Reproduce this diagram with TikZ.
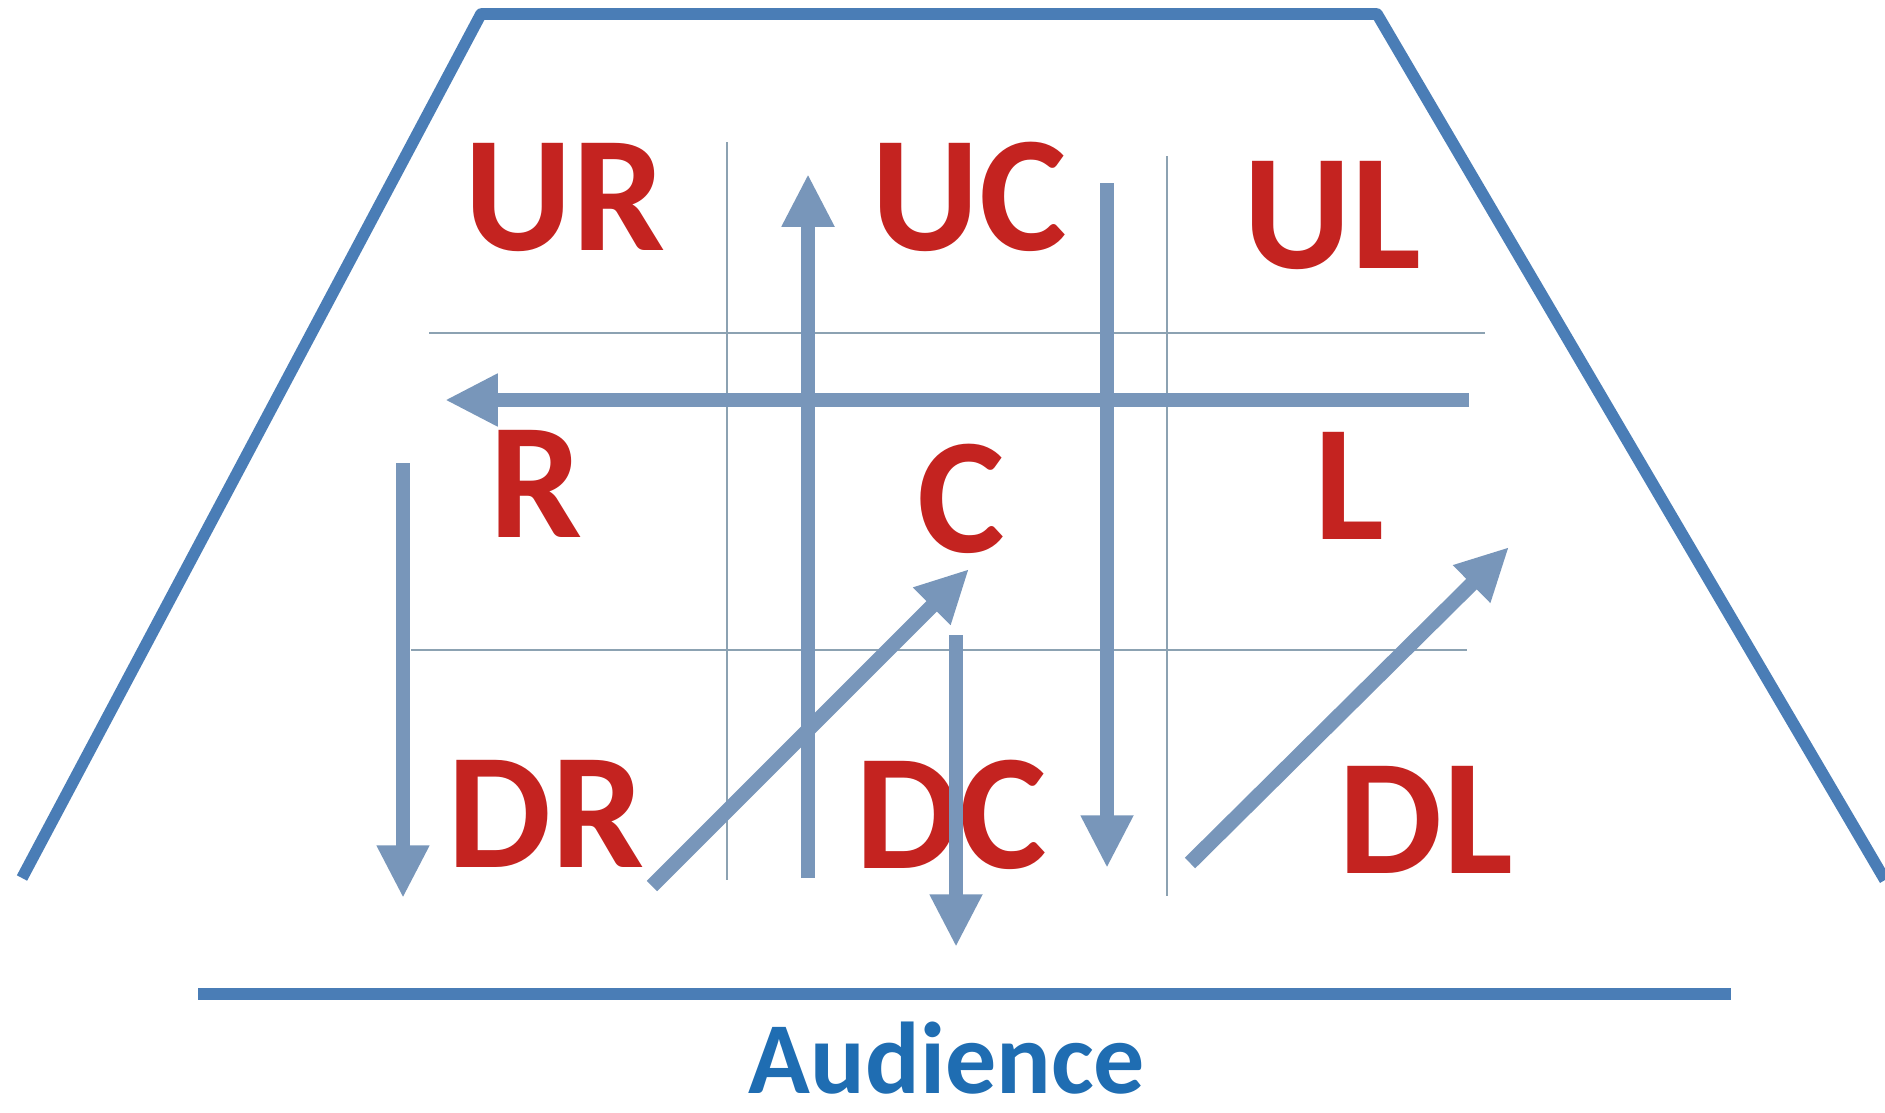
\documentclass[tikz,border=0pt]{standalone}
\usepackage{fontspec}
\setmainfont{Carlito}
\usetikzlibrary{arrows.meta}

\definecolor{stageBlue}{HTML}{4A7DB6}
\definecolor{moveBlue}{HTML}{7896BA}
\definecolor{gridGray}{HTML}{8CA2B2}
\definecolor{areaRed}{HTML}{C42320}
\definecolor{audBlue}{HTML}{1F6DB2}

\begin{document}
\begin{tikzpicture}[x = 0.01cm, y = -0.01cm]
	\tikzstyle{stageStyle} = [draw = stageBlue, line width = 3.3pt, line join = round]
	\tikzstyle{gridStyle} = [draw = gridGray, line width = 0.6pt]
	\tikzstyle{areaStyle} = [text = areaRed, inner sep = 0pt, font = \fontsize{47}{47}\selectfont\bfseries]
	\tikzstyle{moveStyle} = [draw = moveBlue, line width = 4.2pt, -{Triangle[width = 14pt, length = 15pt]}]
	\useasboundingbox (0,0) rectangle (1885,1112);
	% stage and audience
	\draw[stageStyle] (22,878) -- (481,14) -- (1377,14) -- (1885,880);
	\draw[stageStyle] (198,994) -- (1731,994);
	\node[text = audBlue, anchor = base, inner sep = 0pt, font = \fontsize{29}{29}\selectfont\bfseries] (aud) at (947,1093) {Audience};
	% grid
	\draw[gridStyle] (727,142) -- (727,880);
	\draw[gridStyle] (1167,156) -- (1167,896);
	\draw[gridStyle] (429,333) -- (1485,333);
	\draw[gridStyle] (411,650) -- (1467,650);
	% areas
	\node[areaStyle] (ur) at (565,198) {UR};
	\node[areaStyle] (uc) at (969,197) {UC};
	\node[areaStyle] (ul) at (1332,216) {UL};
	\node[areaStyle] (r) at (536,484) {R};
	\node[areaStyle] (c) at (961,499) {C};
	\node[areaStyle] (l) at (1349,486) {L};
	\node[areaStyle] (dr) at (546,814) {DR};
	\node[areaStyle] (dc) at (951,815) {DC};
	\node[areaStyle] (dl) at (1426,820) {DL};
	% moves
	\coordinate (m0) at (808,878);
	\coordinate (m1) at (808,174);
	\coordinate (m2) at (1107,183);
	\coordinate (m3) at (1107,868);
	\coordinate (m4) at (1469,400);
	\coordinate (m5) at (445,400);
	\coordinate (m6) at (403,463);
	\coordinate (m7) at (403,898);
	\coordinate (m8) at (652,886);
	\coordinate (m9) at (969,569);
	\coordinate (m10) at (956,635);
	\coordinate (m11) at (956,947);
	\coordinate (m12) at (1190,863);
	\coordinate (m13) at (1509,547);
	\draw[moveStyle] (m0) -- (m1);
	\draw[moveStyle] (m2) -- (m3);
	\draw[moveStyle] (m4) -- (m5);
	\draw[moveStyle] (m6) -- (m7);
	\draw[moveStyle] (m8) -- (m9);
	\draw[moveStyle] (m10) -- (m11);
	\draw[moveStyle] (m12) -- (m13);
\end{tikzpicture}
\end{document}
